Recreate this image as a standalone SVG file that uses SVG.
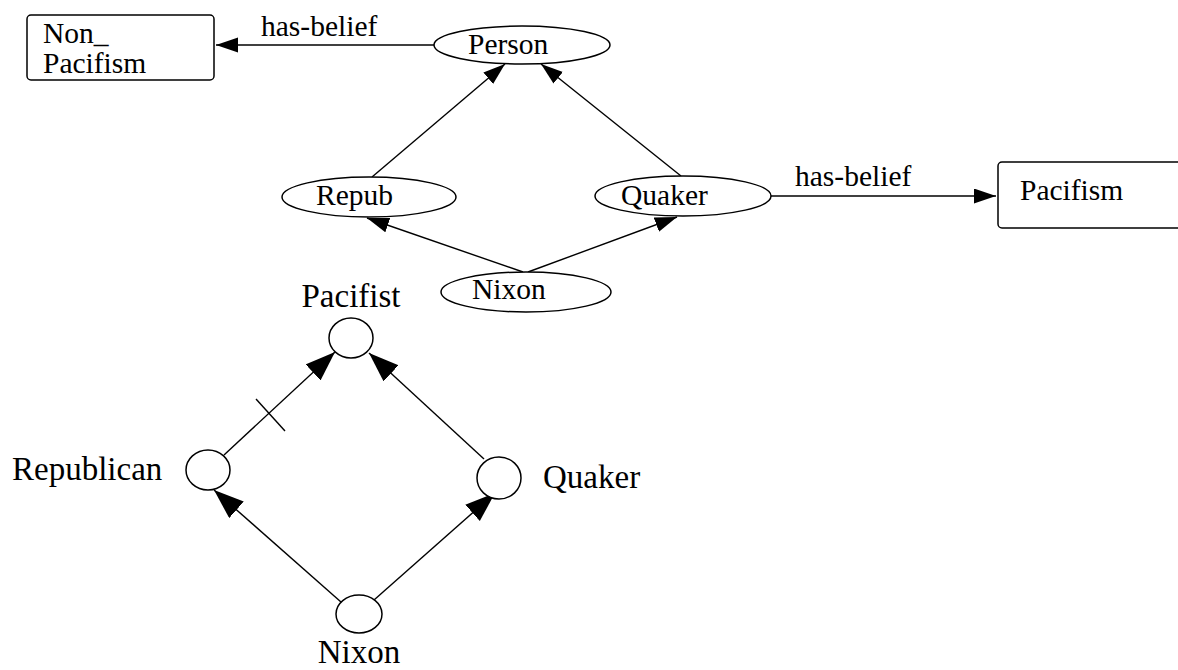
<svg xmlns="http://www.w3.org/2000/svg" width="1178" height="670" viewBox="0 0 1178 670">
<style>
.n{fill:#fff;stroke:#000;stroke-width:1.5}
.e{fill:none;stroke:#000;stroke-width:1.4}
.t{font-family:"Liberation Serif","Times New Roman",serif;font-size:29.5px;fill:#000}
.b{font-family:"Liberation Serif","Times New Roman",serif;font-size:33px;fill:#000}
</style>
<defs>
<marker id="a" markerUnits="userSpaceOnUse" markerWidth="24" markerHeight="16" refX="22" refY="7.5" orient="auto">
<path d="M0,0 L22,7.5 L0,15 Z" fill="#000"/>
</marker>
<marker id="A" markerUnits="userSpaceOnUse" markerWidth="32" markerHeight="24" refX="30" refY="11" orient="auto">
<path d="M0,0 L30,11 L0,22 Z" fill="#000"/>
</marker>
</defs>
<rect width="1178" height="670" fill="#fff"/>
<g id="connectors">
<line class="e" x1="434" y1="45" x2="216" y2="45" marker-end="url(#a)"/>
<text class="t" x="261" y="36">has-belief</text>
<line class="e" x1="771" y1="196" x2="996" y2="196" marker-end="url(#a)"/>
<text class="t" x="795" y="186">has-belief</text>
<line class="e" x1="372" y1="177" x2="505" y2="64" marker-end="url(#a)"/>
<line class="e" x1="681" y1="176" x2="541" y2="64" marker-end="url(#a)"/>
<line class="e" x1="523" y1="272" x2="367" y2="218" marker-end="url(#a)"/>
<line class="e" x1="528" y1="272" x2="677" y2="217" marker-end="url(#a)"/>
<line class="e" x1="224" y1="455" x2="335" y2="352" marker-end="url(#A)"/>
<line class="e" x1="256" y1="399" x2="285" y2="431"/>
<line class="e" x1="484" y1="459" x2="369" y2="353" marker-end="url(#A)"/>
<line class="e" x1="341" y1="602" x2="214" y2="490" marker-end="url(#A)"/>
<line class="e" x1="374" y1="600" x2="495" y2="493" marker-end="url(#A)"/>
</g>
<g id="non-pacifism">
<rect class="n" x="27" y="15" width="187" height="65" rx="4"/>
<text class="t" x="43" y="43">Non_</text>
<text class="t" x="43" y="73">Pacifism</text>
</g>
<g id="person">
<ellipse class="n" cx="522" cy="45" rx="88" ry="19"/>
<text class="t" x="468" y="54">Person</text>
</g>
<g id="repub">
<ellipse class="n" cx="369" cy="197" rx="87" ry="20"/>
<text class="t" x="316" y="205">Repub</text>
</g>
<g id="quaker">
<ellipse class="n" cx="683" cy="196" rx="88" ry="20"/>
<text class="t" x="621" y="205">Quaker</text>
</g>
<g id="nixon">
<ellipse class="n" cx="526" cy="292" rx="85" ry="20"/>
<text class="t" x="472" y="299">Nixon</text>
</g>
<g id="pacifism">
<rect class="n" x="998" y="162" width="200" height="66" rx="4"/>
<text class="t" x="1020" y="200">Pacifism</text>
</g>
<g id="pacifist">
<ellipse class="n" cx="351" cy="338" rx="22" ry="20"/>
<text class="b" x="351" y="307" text-anchor="middle">Pacifist</text>
</g>
<g id="republican">
<ellipse class="n" cx="208" cy="470" rx="22" ry="20"/>
<text class="b" x="12" y="480">Republican</text>
</g>
<g id="quaker2">
<ellipse class="n" cx="499" cy="478" rx="22" ry="21"/>
<text class="b" x="543" y="488">Quaker</text>
</g>
<g id="nixon2">
<ellipse class="n" cx="359" cy="614" rx="23" ry="19"/>
<text class="b" x="359" y="663" text-anchor="middle">Nixon</text>
</g>
</svg>
